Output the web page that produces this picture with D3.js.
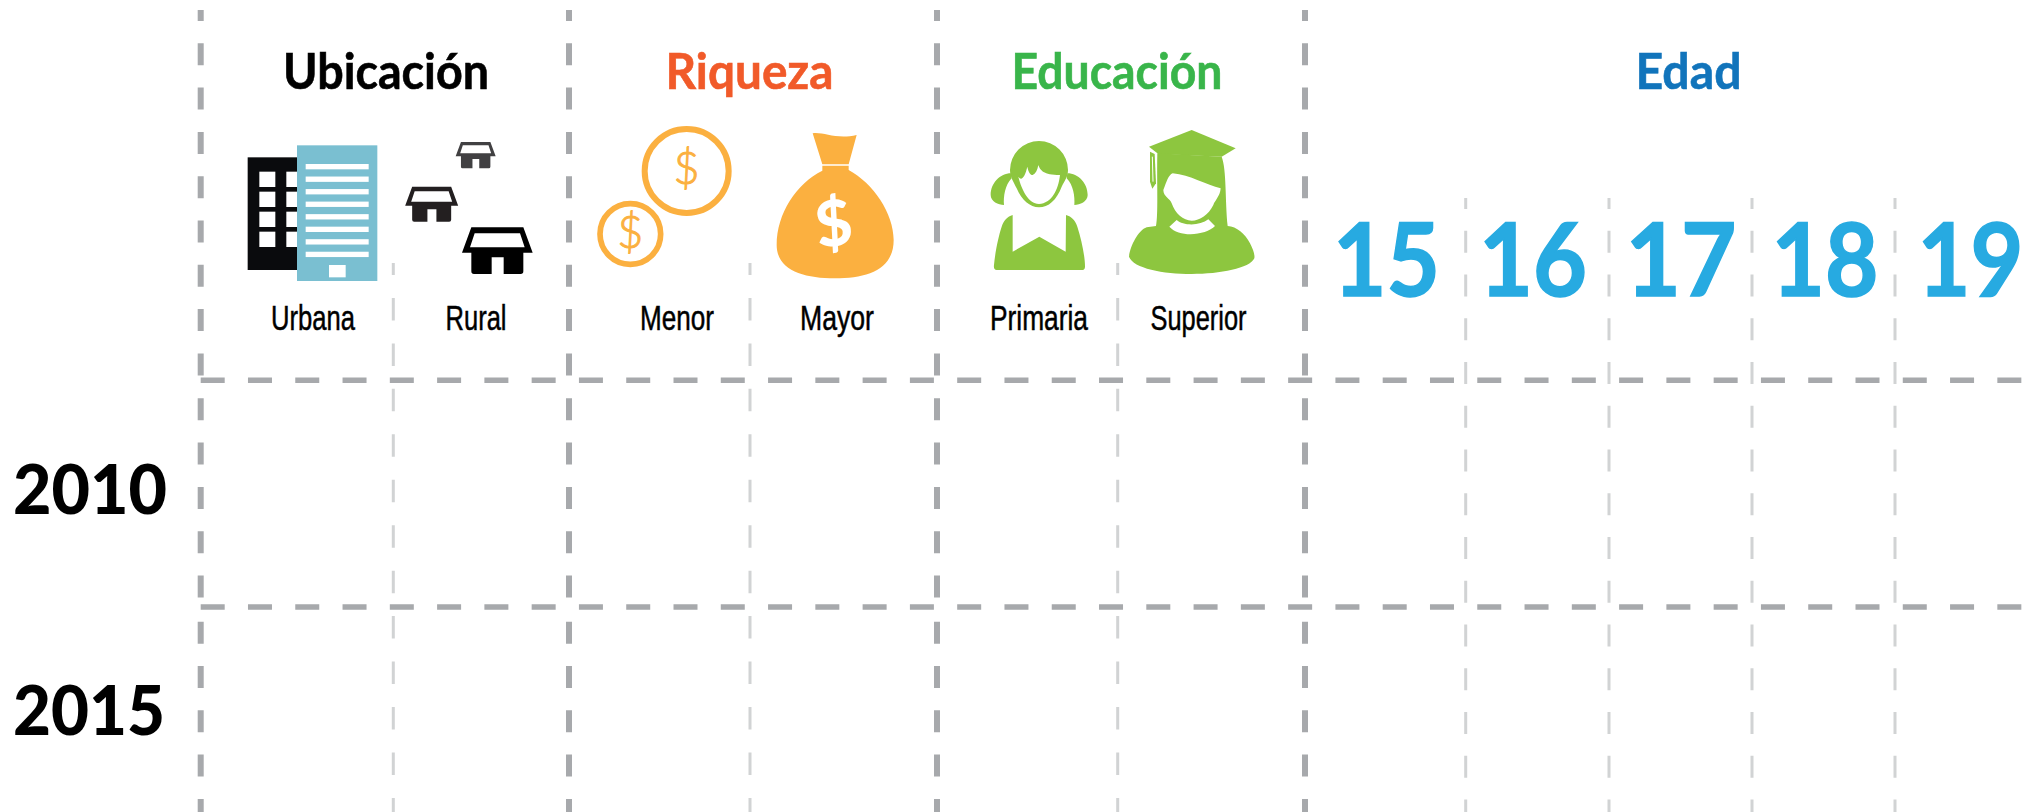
<!DOCTYPE html>
<html>
<head>
<meta charset="utf-8">
<script src="https://cdn.jsdelivr.net/npm/d3@7"></script>
<style>
  html, body { margin: 0; background: #fff; }
  svg { display: block; }
</style>
</head>
<body>
<svg id="drawing_region"></svg>
<script>
const groups = ['Ubicación', 'Riqueza', 'Educación', 'Edad'];
const subLabels = ['Urbana', 'Rural', 'Menor', 'Mayor', 'Primaria', 'Superior'];
const ages = ['15', '16', '17', '18', '19'];
const years = ['2010', '2015'];

const config = { width: 2035, height: 812 };

// layout
const majorX = d3.scaleOrdinal(['a', 'b', 'c', 'd'], [200.7, 569, 937, 1305]);
const minorX = d3.scaleOrdinal(['Urbana', 'Menor', 'Primaria'], [393.3, 750, 1117.7]);
const ageX = d3.scaleOrdinal(['15', '16', '17', '18'], [1465.7, 1609, 1752, 1895]);
const rowY = d3.scaleOrdinal(years, [380.3, 607]);

const groupColor = d3.scaleOrdinal(groups, ['#000000', '#f15a29', '#39b54a', '#1174bb']);
const groupBox = d3.scaleOrdinal(groups, [[283, 206], [665.5, 168], [1011.5, 211], [1635.5, 106]]);
const subBox = d3.scaleOrdinal(subLabels, [[271, 84], [445.5, 61], [640, 74], [800, 74], [990, 98], [1150.5, 96]]);
const ageBox = d3.scaleOrdinal(ages, [[1333, 107], [1479, 108], [1625.5, 111], [1771.5, 107], [1917.5, 106]]);
const yearBox = d3.scaleOrdinal(years, [[13, 154, 514], [13, 152, 735]]);

const svg = d3.select('#drawing_region')
  .attr('width', config.width)
  .attr('height', config.height);

// grid
const grid = svg.append('g').attr('fill', 'none');

const major = [
  {y1: 10, y2: 380, offset: 11},
  {y1: 398.3, y2: 600, offset: 0},
  {y1: 621.7, y2: 812, offset: 0}
];
majorX.domain().forEach( k => {
  grid.selectAll(null).data(major).join('line')
    .attr('x1', majorX(k)).attr('x2', majorX(k))
    .attr('y1', d => d.y1).attr('y2', d => d.y2)
    .attr('stroke', '#a7a9ac').attr('stroke-width', 6)
    .attr('stroke-dasharray', '22 22.3')
    .attr('stroke-dashoffset', d => d.offset);
});

grid.selectAll('.minor').data(minorX.domain()).join('line')
  .attr('class', 'minor')
  .attr('x1', minorX).attr('x2', minorX)
  .attr('y1', 263).attr('y2', 812)
  .attr('stroke', '#d1d3d4').attr('stroke-width', 3)
  .attr('stroke-dasharray', '22.5 22.95')
  .attr('stroke-dashoffset', 10.5);

grid.selectAll('.minor-age').data(ageX.domain()).join('line')
  .attr('class', 'minor-age')
  .attr('x1', ageX).attr('x2', ageX)
  .attr('y1', 198).attr('y2', 812)
  .attr('stroke', '#d1d3d4').attr('stroke-width', 3)
  .attr('stroke-dasharray', '22 21.75')
  .attr('stroke-dashoffset', 11);

grid.selectAll('.row').data(years).join('line')
  .attr('class', 'row')
  .attr('x1', 200.7).attr('x2', 2035)
  .attr('y1', rowY).attr('y2', rowY)
  .attr('stroke', '#a7a9ac').attr('stroke-width', 5.5)
  .attr('stroke-dasharray', '24 23.28');

// text, fitted to the measured widths
svg.selectAll('.group').data(groups).join('text')
  .attr('class', 'group')
  .attr('x', d => groupBox(d)[0]).attr('y', 88.5)
  .attr('textLength', d => groupBox(d)[1]).attr('lengthAdjust', 'spacingAndGlyphs')
  .attr('font-family', 'Lato').attr('font-weight', 700).attr('font-size', 50)
  .attr('fill', groupColor).attr('stroke', groupColor).attr('stroke-width', 0.6)
  .text(d => d);

svg.selectAll('.sub').data(subLabels).join('text')
  .attr('class', 'sub')
  .attr('x', d => subBox(d)[0]).attr('y', 330)
  .attr('textLength', d => subBox(d)[1]).attr('lengthAdjust', 'spacingAndGlyphs')
  .attr('font-family', "'Liberation Sans', Arial, sans-serif").attr('font-size', 35)
  .attr('fill', '#000').attr('stroke', '#000').attr('stroke-width', 0.5)
  .text(d => d);

svg.selectAll('.age').data(ages).join('text')
  .attr('class', 'age')
  .attr('x', d => ageBox(d)[0]).attr('y', 295.5)
  .attr('textLength', d => ageBox(d)[1]).attr('lengthAdjust', 'spacingAndGlyphs')
  .attr('font-family', 'Lato').attr('font-weight', 700).attr('font-size', 102)
  .attr('fill', '#27aae1').attr('stroke', '#27aae1').attr('stroke-width', 1.5)
  .text(d => d);

svg.selectAll('.year').data(years).join('text')
  .attr('class', 'year')
  .attr('x', d => yearBox(d)[0]).attr('y', d => yearBox(d)[2])
  .attr('textLength', d => yearBox(d)[1]).attr('lengthAdjust', 'spacingAndGlyphs')
  .attr('font-family', 'Lato').attr('font-weight', 900).attr('font-size', 69)
  .attr('fill', '#000')
  .text(d => d);

// icons are traced at 3x, each group scales back down
function icon( ox ) {
  return svg.append('g').attr('transform', `translate(${ox},0) scale(${1/3})`);
}

// building
const city = icon(180);
city.append('rect').attr('x', 203).attr('y', 472).attr('width', 150).attr('height', 338).attr('fill', '#0a0b0d');
d3.range(4).forEach( r => {
  [238, 319].forEach( wx => {
    city.append('rect').attr('x', wx).attr('y', 515 + r * 60)
      .attr('width', wx == 238 ? 48 : 34).attr('height', 46).attr('fill', '#fff');
  });
});
city.append('rect').attr('x', 351).attr('y', 436).attr('width', 241).attr('height', 407).attr('fill', '#7abfd1');
d3.range(8).forEach( r => {
  city.append('rect').attr('x', 377).attr('y', 492 + r * 37.6)
    .attr('width', 189).attr('height', 16).attr('fill', '#fff');
});
city.append('rect').attr('x', 447).attr('y', 795).attr('width', 50).attr('height', 37).attr('fill', '#fff');

// houses
const house = 'M-78,-140 L78,-140 L106,-64 L78,-64 L78,-8 Q78,0 70,0 L19,0 L19,-50 L-17,-50 L-17,0 L-70,0 Q-78,0 -78,-8 L-78,-64 L-106,-64 Z'
  + ' M-68,-122 L-82,-80 L82,-80 L68,-122 Z';
[
  {x: 952, y: 822, k: 1, color: '#000000'},
  {x: 755, y: 665, k: 0.75, color: '#231f20'},
  {x: 887, y: 505, k: 0.566, color: '#414042'}
].forEach( h => {
  city.append('path')
    .attr('transform', `translate(${h.x},${h.y}) scale(${h.k})`)
    .attr('d', house).attr('fill', h.color).attr('fill-rule', 'evenodd');
});

// coins
const money = icon(560);
[
  {x: 380, y: 513, r: 126, w: 18, base: 552},
  {x: 211, y: 702, r: 91, w: 17, base: 744}
].forEach( c => {
  money.append('circle').attr('cx', c.x).attr('cy', c.y).attr('r', c.r)
    .attr('fill', 'none').attr('stroke', '#fbb040').attr('stroke-width', c.w);
  money.append('text').attr('x', c.x).attr('y', c.base)
    .attr('text-anchor', 'middle').attr('font-family', 'Lato').attr('font-weight', 300)
    .attr('font-size', 135).attr('fill', '#fbb040')
    .attr('stroke', '#fbb040').attr('stroke-width', 3).text('$');
});

// bag
money.append('path')
  .attr('d', 'M758,400 C790,395 830,420 890,405 L866,493 L787,493 Z')
  .attr('fill', '#fbb040');
money.append('path')
  .attr('d', 'M787,497 L866,497 L866,510 C940,550 1001,640 1001,720 C1001,810 920,835 825,835 C730,835 650,810 650,735 C650,640 710,550 787,512 Z')
  .attr('fill', '#fbb040');
money.append('text')
  .attr('transform', 'translate(830,737) rotate(-8)')
  .attr('text-anchor', 'middle').attr('font-family', 'Lato').attr('font-weight', 900)
  .attr('font-size', 190).attr('fill', '#fff').text('$');

// girl
const school = icon(950);
const green = '#8dc63f';
[
  'M180,510 A87,87 0 0 1 354,510 C354,530 345,540 335,560 C320,600 295,622 267,622 C240,622 215,600 200,565 C190,545 180,530 180,510 Z',
  'M183,520 C150,520 122,550 122,585 C122,605 145,615 162,615 C160,590 165,555 185,535 Z',
  'M352,520 C385,520 413,550 413,585 C413,605 390,615 373,615 C375,590 370,555 350,535 Z',
  'M188,645 L188,755 L268,710 L347,755 L348,645 C365,650 375,660 382,680 C395,720 405,770 405,800 Q405,810 395,810 L140,810 Q130,810 132,795 C135,760 145,710 155,680 C162,660 172,650 188,645 Z'
].forEach( d => school.append('path').attr('d', d).attr('fill', green));
school.append('path')
  .attr('d', 'M205,530 C215,545 225,530 232,500 C235,515 240,525 248,525 C258,520 262,510 265,495 C270,510 280,525 330,525 C325,570 305,610 267,612 C235,610 215,570 205,530 Z')
  .attr('fill', '#fff');

// graduate
[
  'M597,440 L725,390 L857,445 L815,470 L625,462 Z',
  'M622,460 L815,470 C830,510 825,600 833,678 C860,680 885,700 900,730 C910,750 915,765 913,775 C900,805 810,822 725,822 C640,822 550,805 537,770 C540,740 565,690 590,682 L618,678 C625,640 620,540 622,460 Z',
  'M600,455 L614,462 L618,550 L607,566 L600,545 Z'
].forEach( d => school.append('path').attr('d', d).attr('fill', green));
[
  'M640,570 C650,545 655,525 668,520 C720,525 770,555 812,565 C810,590 795,600 790,615 C775,645 750,662 725,662 C700,662 675,640 665,610 C660,595 640,590 640,570 Z',
  'M658,680 L680,660 C700,678 750,678 775,658 L795,678 C770,705 690,715 658,680 Z'
].forEach( d => school.append('path').attr('d', d).attr('fill', '#fff'));
school.append('path').attr('d', 'M607,470 L609,545').attr('stroke', '#fff').attr('stroke-width', 3).attr('fill', 'none');
</script>
</body>
</html>
